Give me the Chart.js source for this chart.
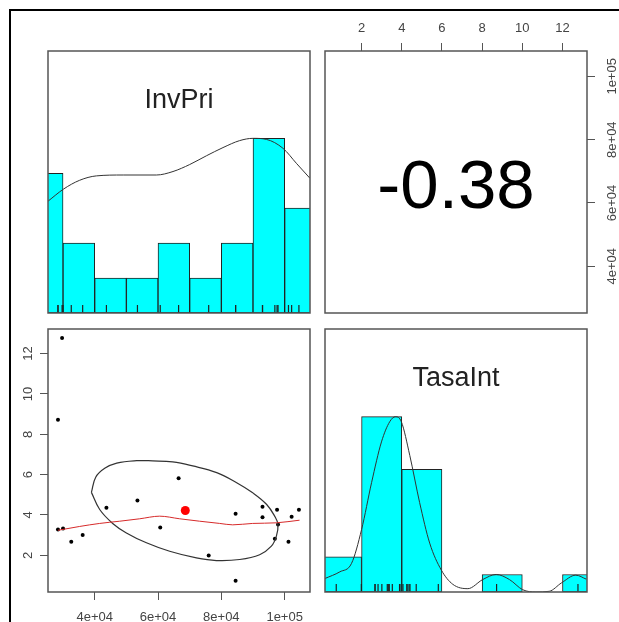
<!DOCTYPE html>
<html>
<head>
<meta charset="utf-8">
<script src="https://cdn.jsdelivr.net/npm/chart.js@4.4.1/dist/chart.umd.min.js"></script>
<style>
  body { margin: 0; background: #fff; width: 619px; height: 622px; overflow: hidden; position: relative; }
  .frame { position: absolute; left: 9px; top: 9px; width: 620px; height: 620px; border-left: 2px solid #000; border-top: 2px solid #000; }
  canvas { position: absolute; }
</style>
</head>
<body>
<div class="frame"></div>
<script>
// raw data
var invPri = [29700, 28400, 28400, 30000, 32600, 36200, 43700, 53500, 60700, 66500, 84500, 84500, 76000, 93000, 93000, 97600, 97900, 96900, 101200, 102200, 104500];
var tasaInt = [12.77, 8.72, 3.28, 3.33, 2.67, 3.01, 4.36, 4.72, 3.38, 5.82, 4.06, 0.74, 1.99, 4.41, 3.89, 4.26, 3.53, 2.82, 2.67, 3.91, 4.26];

// histograms
var invBreaks = [20000, 30000, 40000, 50000, 60000, 70000, 80000, 90000, 100000, 110000];
var invCounts = [4, 2, 1, 1, 2, 1, 2, 5, 3];
var tasaBreaks = [0, 2, 4, 6, 8, 10, 12, 14];
var tasaCounts = [2, 10, 7, 0, 1, 0, 1];

// density curves (scaled to max = 1)
var invDensX = [25250, 30200, 35260, 40530, 49010, 59480, 64730, 70000, 75270, 80520, 85790, 89990, 94220, 99460, 103700, 108000];
var invDensY = [0.64, 0.71, 0.76, 0.785, 0.79, 0.79, 0.81, 0.85, 0.90, 0.947, 0.987, 1.0, 0.994, 0.943, 0.857, 0.771];
var tasaDensX = [0.18, 0.92, 1.50, 2.0, 2.5, 2.99, 3.40, 3.69, 3.98, 4.40, 4.89, 5.39, 5.97, 6.54, 7.29, 8.03, 8.70, 9.36, 10.02, 10.68, 11.34, 11.95, 12.66, 13.19];
var tasaDensY = [0.077, 0.115, 0.163, 0.356, 0.625, 0.856, 0.971, 1.0, 0.971, 0.779, 0.51, 0.279, 0.125, 0.044, 0.019, 0.071, 0.1, 0.071, 0.013, 0.0, 0.004, 0.052, 0.096, 0.073];

// smoother and correlation ellipse
var loessX = [28400, 35260, 41580, 47900, 54210, 60530, 66840, 73160, 79470, 83580, 89900, 97380, 104700];
var loessY = [3.24, 3.43, 3.58, 3.69, 3.81, 3.94, 3.81, 3.69, 3.58, 3.51, 3.58, 3.61, 3.74];
var ellX = [38960, 40320, 43160, 46950, 53260, 58320, 64630, 70950, 78530, 84840, 89900, 94320, 96840, 97880, 97380, 95800, 92100, 85790, 78430, 72120, 63680, 56330, 50010, 45680, 41580, 38960];
var ellY = [5.12, 5.87, 6.31, 6.57, 6.69, 6.68, 6.63, 6.43, 6.10, 5.60, 5.10, 4.52, 3.94, 3.53, 2.95, 2.45, 2.03, 1.79, 1.74, 1.87, 2.20, 2.62, 3.11, 3.58, 4.27, 5.12];

var corr = -0.38;

// axes
var invRange = [25250, 108000];
var tasaRange = [0.18, 13.22];
var invTicks = [40000, 60000, 80000, 100000];
var invTickLabels = ['4e+04', '6e+04', '8e+04', '1e+05'];
var tasaTicks = [2, 4, 6, 8, 10, 12];
var tasaTickLabels = ['2', '4', '6', '8', '10', '12'];

Chart.defaults.font.family = '"Liberation Sans", Arial, sans-serif';
Chart.defaults.font.size = 13;
Chart.defaults.color = '#444';

var FONT = '"Liberation Sans", Arial, sans-serif';

var panelPlugin = {
    id: 'panel',
    afterDraw: function (chart, args, opts) {
        var ctx = chart.ctx, a = chart.chartArea;
        ctx.save();
        ctx.strokeStyle = '#555';
        ctx.lineWidth = 1.5;
        ctx.strokeRect(a.left, a.top, a.right - a.left, a.bottom - a.top);
        ctx.textAlign = 'center';
        if (opts.title) {
            ctx.fillStyle = '#222';
            ctx.font = '27px ' + FONT;
            ctx.fillText(opts.title, (a.left + a.right) / 2, a.top + 57);
        }
        if (opts.big) {
            ctx.fillStyle = '#000';
            ctx.font = '69px ' + FONT;
            ctx.fillText(opts.big, (a.left + a.right) / 2, (a.top + a.bottom) / 2 + 26);
        }
        if (opts.vTicks) {
            var s = chart.scales[opts.vTicks.axis];
            var x = opts.vTicks.side === 'left' ? a.left - 20 : a.right + 25;
            ctx.fillStyle = '#444';
            ctx.font = '13px ' + FONT;
            ctx.textBaseline = 'middle';
            s.ticks.forEach(function (t, i) {
                ctx.save();
                ctx.translate(x, s.getPixelForValue(t.value));
                ctx.rotate(-Math.PI / 2);
                ctx.fillText(opts.vTicks.labels[i], 0, 0);
                ctx.restore();
            });
        }
        ctx.restore();
    }
};

function setTicks(vals) {
    return function (s) { s.ticks = vals.map(function (v) { return { value: v }; }); };
}

function hiddenAxis(range, vals) {
    return {
        type: 'linear', display: false, offset: false, grid: { offset: false },
        min: range[0], max: range[1], afterBuildTicks: setTicks(vals)
    };
}

function shownAxis(range, vals, labels, pos, pad, size, showText) {
    return {
        type: 'linear', position: pos, min: range[0], max: range[1], offset: false,
        afterBuildTicks: setTicks(vals),
        afterFit: function (s) { if (s.isHorizontal()) s.height = size; else s.width = size; },
        grid: { drawOnChartArea: false, drawTicks: true, tickLength: 8, color: '#555', lineWidth: 1, offset: false },
        border: { display: false },
        ticks: {
            display: showText, autoSkip: false, maxRotation: 0, padding: pad,
            callback: function (v, i) { return labels[i]; }
        }
    };
}

function histBars(breaks, counts) {
    var mx = Math.max.apply(null, counts);
    return counts.map(function (c, i) { return { x: (breaks[i] + breaks[i + 1]) / 2, y: c / mx }; });
}

function pts(xs, ys) {
    return xs.map(function (v, i) { return { x: v, y: ys[i] }; });
}

function baseOptions(padding, scales, panel) {
    return {
        responsive: false, animation: false, events: [],
        layout: { padding: padding, autoPadding: false },
        scales: scales,
        plugins: { legend: { display: false }, tooltip: { enabled: false }, panel: panel }
    };
}

function makeChart(left, top, w, h, cfg) {
    var c = document.createElement('canvas');
    c.width = w; c.height = h;
    c.style.left = left + 'px';
    c.style.top = top + 'px';
    document.body.appendChild(c);
    cfg.plugins = [panelPlugin];
    return new Chart(c, cfg);
}

function diagChart(left, top, w, h, range, ticks, breaks, counts, dx, dy, rug, title) {
    return makeChart(left, top, w, h, {
        type: 'bar',
        data: {
            datasets: [{
                type: 'line', data: pts(dx, dy), borderColor: '#333', borderWidth: 1,
                pointRadius: 0, cubicInterpolationMode: 'monotone', clip: 0, order: 1
            }, {
                type: 'scatter', data: rug.map(function (v) { return { x: v, y: 0 }; }),
                pointStyle: 'line', pointRotation: 90, pointRadius: 8,
                pointBorderColor: '#222', pointBorderWidth: 1.2, clip: 0, order: 2
            }, {
                type: 'bar', data: histBars(breaks, counts), backgroundColor: '#00ffff',
                borderColor: '#222', borderWidth: 1, borderSkipped: false,
                barPercentage: 1, categoryPercentage: 1, clip: 0, order: 3
            }]
        },
        options: baseOptions(4, {
            x: hiddenAxis(range, ticks),
            y: { type: 'linear', display: false, min: 0, max: 1.5 }
        }, { title: title })
    });
}

// top-left: InvPri histogram
diagChart(44, 47, 270, 270, invRange, invTicks, invBreaks, invCounts, invDensX, invDensY, invPri, 'InvPri');

// bottom-right: TasaInt histogram
diagChart(321, 325, 270, 271, tasaRange, tasaTicks, tasaBreaks, tasaCounts, tasaDensX, tasaDensY, tasaInt, 'TasaInt');

// top-right: correlation
makeChart(321, 15, 298, 302, {
    type: 'scatter',
    data: { datasets: [] },
    options: baseOptions({ left: 4, top: 0, right: 0, bottom: 4 }, {
        x: shownAxis(tasaRange, tasaTicks, tasaTickLabels, 'top', 7, 36, true),
        y: shownAxis(invRange, invTicks, invTickLabels, 'right', 0, 32, false)
    }, { big: corr.toFixed(2), vTicks: { axis: 'y', side: 'right', labels: invTickLabels } })
});

// bottom-left: scatter
var meanX = invPri.reduce(function (s, v) { return s + v; }, 0) / invPri.length;
var meanY = tasaInt.reduce(function (s, v) { return s + v; }, 0) / tasaInt.length;

makeChart(10, 325, 304, 297, {
    type: 'scatter',
    data: {
        datasets: [{
            data: [{ x: meanX, y: meanY }], pointRadius: 4.5,
            pointBackgroundColor: '#ff0000', pointBorderWidth: 0, order: 1
        }, {
            type: 'line', data: pts(loessX, loessY), borderColor: '#d62a2a', borderWidth: 1,
            pointRadius: 0, cubicInterpolationMode: 'monotone', clip: 0, order: 2
        }, {
            type: 'line', data: pts(ellX, ellY), borderColor: '#333', borderWidth: 1.2,
            pointRadius: 0, tension: 0.4, clip: 0, order: 3
        }, {
            data: pts(invPri, tasaInt), pointRadius: 2,
            pointBackgroundColor: '#000', pointBorderWidth: 0, order: 4
        }]
    },
    options: baseOptions({ left: 0, top: 4, right: 4, bottom: 0 }, {
        x: shownAxis(invRange, invTicks, invTickLabels, 'bottom', 10, 30, true),
        y: shownAxis(tasaRange, tasaTicks, tasaTickLabels, 'left', 0, 38, false)
    }, { vTicks: { axis: 'y', side: 'left', labels: tasaTickLabels } })
});
</script>
</body>
</html>
